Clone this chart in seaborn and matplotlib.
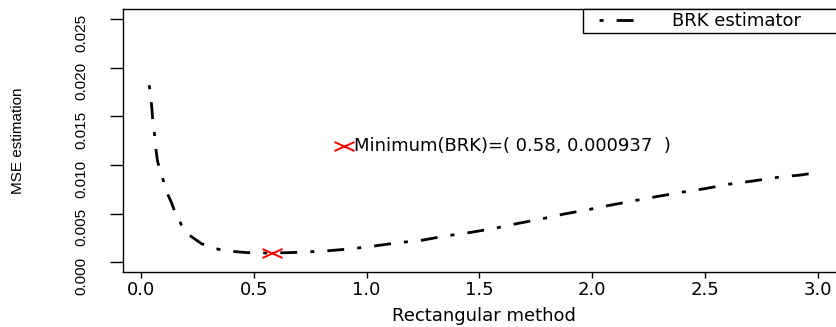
import matplotlib
matplotlib.use("Agg")
import matplotlib.pyplot as plt
import seaborn as sns
from matplotlib import font_manager
from matplotlib.lines import Line2D
from matplotlib.path import Path

# BRK estimator curve
h_values = [0.037, 0.043, 0.048, 0.052, 0.058, 0.063, 0.067, 0.074, 0.088, 0.102,
            0.117, 0.136, 0.155, 0.181, 0.214, 0.269, 0.362, 0.471, 0.58, 0.705,
            0.816, 0.926, 1.027, 1.133, 1.244, 1.352, 1.455, 1.561, 1.665, 1.768,
            1.871, 1.975, 2.078, 2.182, 2.285, 2.396, 2.50, 2.603, 2.713, 2.824,
            2.928, 2.96]
mse_values = [0.0182, 0.0170, 0.0160, 0.0148, 0.0137, 0.0126, 0.01155, 0.01035, 0.0093, 0.0082,
              0.0071, 0.0061, 0.0049, 0.0038, 0.0028, 0.0019, 0.0012, 0.00099, 0.000937, 0.00103,
              0.00116, 0.00137, 0.00165, 0.00199, 0.00226, 0.00271, 0.00305, 0.00346, 0.00397, 0.00442,
              0.00494, 0.00538, 0.00586, 0.00631, 0.00675, 0.0072, 0.00757, 0.00802, 0.00836, 0.00874,
              0.00898, 0.0091]

min_h = 0.58
min_mse = 0.000937

x_ticks = [0.0, 0.5, 1.0, 1.5, 2.0, 2.5, 3.0]
x_tick_labels = ["0.0", "0.5", "1.0", "1.5", "2.0", "2.5", "3.0"]
y_ticks = [0.000, 0.005, 0.010, 0.015, 0.020, 0.025]
y_tick_labels = ["0.000", "0.005", "0.010", "0.015", "0.020", "0.025"]

sns.set_theme(style="white", rc={"text.color": "black", "axes.labelcolor": "black",
                                 "xtick.color": "black", "ytick.color": "black",
                                 "axes.edgecolor": "black"})
plt.rcParams["font.family"] = ["DejaVu Sans"]

names = {f.name for f in font_manager.fontManager.ttflist}
narrow = "Liberation Sans Narrow" if "Liberation Sans Narrow" in names else "Liberation Sans"

# dot-dash like R's lty=4
dotdash = (1.45, 4.7, 6.1, 4.7)
# wide "x" like R's pch=4 on a stretched device
wide_x = Path([(-1, -0.45), (1, 0.45), (-1, 0.45), (1, -0.45)],
              [Path.MOVETO, Path.LINETO, Path.MOVETO, Path.LINETO])

fig = plt.figure(figsize=(8.37, 3.27), dpi=100)
ax = fig.add_axes([122.6 / 837, 55 / 327, 722.5 / 837, 262.7 / 327])

sns.lineplot(x=h_values, y=mse_values, ax=ax, color="black", linewidth=2,
             linestyle=(0, dotdash), errorbar=None, sort=False)

ax.plot([min_h], [min_mse], marker=wide_x, ms=14.4, mew=1.4, color="red", ls="none")
ax.plot([0.9], [0.012], marker=wide_x, ms=14.4, mew=1.4, color="red", ls="none")
ax.annotate(f"Minimum(BRK)=( {min_h}, {min_mse}  )", xy=(0.9, 0.012),
            xytext=(7.5, 0), textcoords="offset points", ha="left", va="center",
            fontsize=13, color="black")

ax.set_xlim(-0.081, 3.12)
ax.set_ylim(-0.001, 0.026)
ax.set_xticks(x_ticks)
ax.set_xticklabels(x_tick_labels, fontsize=13)
ax.set_yticks(y_ticks)
ax.set_yticklabels(y_tick_labels, fontsize=11, rotation=90, family=narrow)
ax.tick_params(axis="x", direction="out", length=4.3, width=1, pad=2.5, bottom=True)
ax.tick_params(axis="y", direction="out", length=9.4, width=1, pad=15.5, left=True)

for s in ax.spines.values():
    s.set_color("black")
    s.set_linewidth(1.0)

ax.set_xlabel("Rectangular method", fontsize=13)
ax.xaxis.label.set_va("center")
ax.xaxis.set_label_coords(0.5, -0.1675)
ax.set_ylabel("MSE estimation", fontsize=11, family=narrow)
ax.yaxis.label.set_va("center")
ax.yaxis.set_label_coords(-0.1448, 0.5)

proxy = Line2D([], [], color="black", linewidth=2, linestyle=(12.25, dotdash))
leg = ax.legend(handles=[proxy], labels=["BRK estimator"], loc="upper left",
                bbox_to_anchor=(0.6372, 0.0, 0.6, 1.0), mode="expand", borderaxespad=0,
                borderpad=0.15, handlelength=3.3, handletextpad=1.5, fontsize=13,
                frameon=True, fancybox=False, framealpha=1, edgecolor="black")
leg.get_frame().set_linewidth(1.0)

fig.savefig("out.png", dpi=100)
